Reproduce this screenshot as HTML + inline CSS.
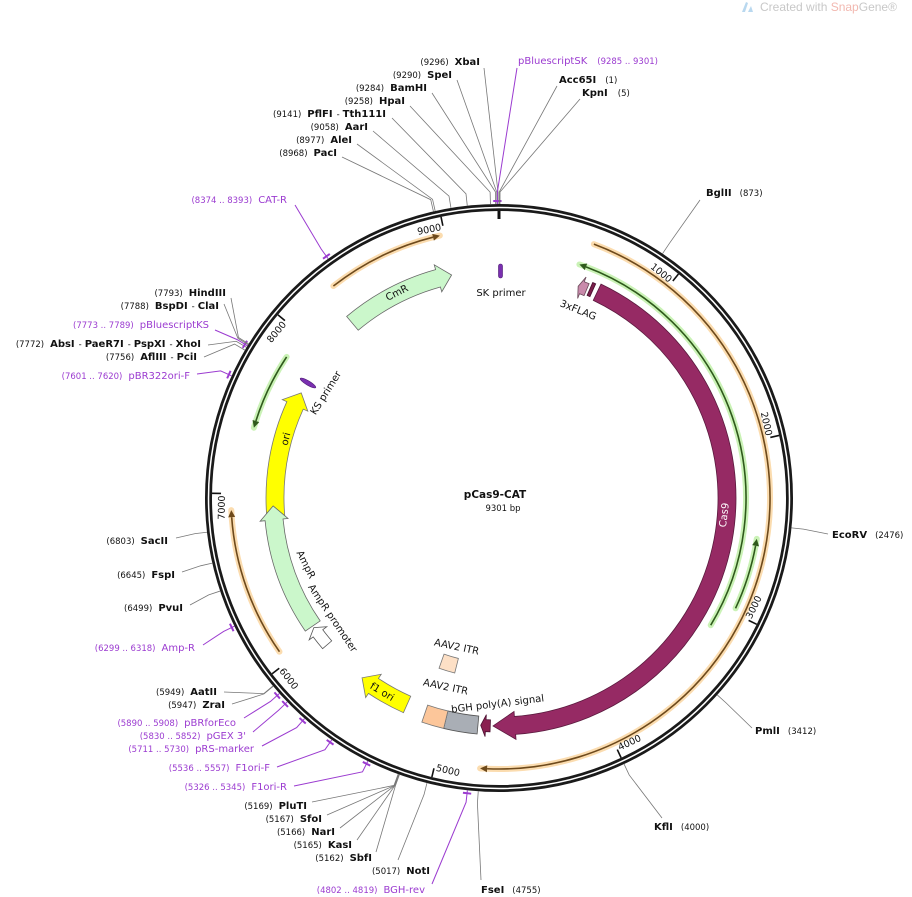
<!DOCTYPE html>
<html><head><meta charset="utf-8"><style>
html,body{margin:0;padding:0;background:#fff;}
svg{display:block;font-family:"DejaVu Sans","Liberation Sans",sans-serif;}
.n{font-size:8.5px;fill:#111;}
.b{font-size:10px;font-weight:bold;fill:#111;}
.p{font-size:8.5px;fill:#9b3bd0;}
.pn{font-size:10px;fill:#9b3bd0;}
.f{font-size:10px;fill:#111;}
.t{font-size:9.5px;fill:#111;}
</style></head><body>
<svg id="s" width="912" height="897" viewBox="0 0 912 897" xmlns="http://www.w3.org/2000/svg">
<g id="g"></g>
<path d="M742 12 L746 2 L748 3 L745 12 Z" fill="#b9d8ef"/><path d="M748 12 L751 6 L753 12 Z" fill="#b9d8ef"/>
<text x="760" y="11" font-size="12" fill="#c8c8c8" font-family="Liberation Sans, sans-serif">Created with <tspan fill="#f2b8b0">Snap</tspan>Gene®</text>

<text x="495" y="498" text-anchor="middle" font-size="10.5" font-weight="bold" fill="#111">pCas9-CAT</text>
<text x="503" y="511" text-anchor="middle" font-size="8.5" fill="#111">9301 bp</text>

<text x="480" y="65" text-anchor="end"><tspan class="n">(9296)</tspan><tspan class="b" dx="6">XbaI</tspan></text>
<text x="452" y="78" text-anchor="end"><tspan class="n">(9290)</tspan><tspan class="b" dx="6">SpeI</tspan></text>
<text x="427" y="91" text-anchor="end"><tspan class="n">(9284)</tspan><tspan class="b" dx="6">BamHI</tspan></text>
<text x="405" y="104" text-anchor="end"><tspan class="n">(9258)</tspan><tspan class="b" dx="6">HpaI</tspan></text>
<text x="386" y="117" text-anchor="end"><tspan class="n">(9141)</tspan><tspan class="b" dx="6">PflFI</tspan><tspan class="n" dx="4">-</tspan><tspan class="b" dx="3">Tth111I</tspan></text>
<text x="368" y="130" text-anchor="end"><tspan class="n">(9058)</tspan><tspan class="b" dx="6">AarI</tspan></text>
<text x="352" y="143" text-anchor="end"><tspan class="n">(8977)</tspan><tspan class="b" dx="6">AleI</tspan></text>
<text x="337" y="156" text-anchor="end"><tspan class="n">(8968)</tspan><tspan class="b" dx="6">PacI</tspan></text>

<text x="518" y="64"><tspan class="pn">pBluescriptSK</tspan><tspan class="p" dx="10">(9285 .. 9301)</tspan></text>
<text x="559" y="83"><tspan class="b">Acc65I</tspan><tspan class="n" dx="9">(1)</tspan></text>
<text x="582" y="96"><tspan class="b">KpnI</tspan><tspan class="n" dx="10">(5)</tspan></text>

<text x="706" y="196"><tspan class="b">BglII</tspan><tspan class="n" dx="8">(873)</tspan></text>
<text x="832" y="538"><tspan class="b">EcoRV</tspan><tspan class="n" dx="8">(2476)</tspan></text>
<text x="755" y="734"><tspan class="b">PmlI</tspan><tspan class="n" dx="8">(3412)</tspan></text>
<text x="654" y="830"><tspan class="b">KflI</tspan><tspan class="n" dx="8">(4000)</tspan></text>
<text x="481" y="893"><tspan class="b">FseI</tspan><tspan class="n" dx="8">(4755)</tspan></text>

<text x="425" y="893" text-anchor="end"><tspan class="p">(4802 .. 4819)</tspan><tspan class="pn" dx="6">BGH-rev</tspan></text>
<text x="430" y="874" text-anchor="end"><tspan class="n">(5017)</tspan><tspan class="b" dx="6">NotI</tspan></text>
<text x="372" y="861" text-anchor="end"><tspan class="n">(5162)</tspan><tspan class="b" dx="6">SbfI</tspan></text>
<text x="352" y="848" text-anchor="end"><tspan class="n">(5165)</tspan><tspan class="b" dx="6">KasI</tspan></text>
<text x="335" y="835" text-anchor="end"><tspan class="n">(5166)</tspan><tspan class="b" dx="6">NarI</tspan></text>
<text x="322" y="822" text-anchor="end"><tspan class="n">(5167)</tspan><tspan class="b" dx="6">SfoI</tspan></text>
<text x="307" y="809" text-anchor="end"><tspan class="n">(5169)</tspan><tspan class="b" dx="6">PluTI</tspan></text>
<text x="287" y="790" text-anchor="end"><tspan class="p">(5326 .. 5345)</tspan><tspan class="pn" dx="6">F1ori-R</tspan></text>
<text x="270" y="771" text-anchor="end"><tspan class="p">(5536 .. 5557)</tspan><tspan class="pn" dx="6">F1ori-F</tspan></text>
<text x="254" y="752" text-anchor="end"><tspan class="p">(5711 .. 5730)</tspan><tspan class="pn" dx="6">pRS-marker</tspan></text>
<text x="246" y="739" text-anchor="end"><tspan class="p">(5830 .. 5852)</tspan><tspan class="pn" dx="6">pGEX 3'</tspan></text>
<text x="236" y="726" text-anchor="end"><tspan class="p">(5890 .. 5908)</tspan><tspan class="pn" dx="6">pBRforEco</tspan></text>
<text x="225" y="708" text-anchor="end"><tspan class="n">(5947)</tspan><tspan class="b" dx="6">ZraI</tspan></text>
<text x="217" y="695" text-anchor="end"><tspan class="n">(5949)</tspan><tspan class="b" dx="6">AatII</tspan></text>
<text x="195" y="651" text-anchor="end"><tspan class="p">(6299 .. 6318)</tspan><tspan class="pn" dx="6">Amp-R</tspan></text>
<text x="183" y="611" text-anchor="end"><tspan class="n">(6499)</tspan><tspan class="b" dx="6">PvuI</tspan></text>
<text x="175" y="578" text-anchor="end"><tspan class="n">(6645)</tspan><tspan class="b" dx="6">FspI</tspan></text>
<text x="168" y="544" text-anchor="end"><tspan class="n">(6803)</tspan><tspan class="b" dx="6">SacII</tspan></text>
<text x="190" y="379" text-anchor="end"><tspan class="p">(7601 .. 7620)</tspan><tspan class="pn" dx="6">pBR322ori-F</tspan></text>
<text x="197" y="360" text-anchor="end"><tspan class="n">(7756)</tspan><tspan class="b" dx="6">AflIII</tspan><tspan class="n" dx="4">-</tspan><tspan class="b" dx="3">PciI</tspan></text>
<text x="201" y="347" text-anchor="end"><tspan class="n">(7772)</tspan><tspan class="b" dx="6">AbsI</tspan><tspan class="n" dx="4">-</tspan><tspan class="b" dx="3">PaeR7I</tspan><tspan class="n" dx="4">-</tspan><tspan class="b" dx="3">PspXI</tspan><tspan class="n" dx="4">-</tspan><tspan class="b" dx="3">XhoI</tspan></text>
<text x="209" y="328" text-anchor="end"><tspan class="p">(7773 .. 7789)</tspan><tspan class="pn" dx="6">pBluescriptKS</tspan></text>
<text x="219" y="309" text-anchor="end"><tspan class="n">(7788)</tspan><tspan class="b" dx="6">BspDI</tspan><tspan class="n" dx="4">-</tspan><tspan class="b" dx="3">ClaI</tspan></text>
<text x="226" y="296" text-anchor="end"><tspan class="n">(7793)</tspan><tspan class="b" dx="6">HindIII</tspan></text>
<text x="287" y="203" text-anchor="end"><tspan class="p">(8374 .. 8393)</tspan><tspan class="pn" dx="6">CAT-R</tspan></text>

<text x="501" y="296" text-anchor="middle" class="f">SK primer</text>
<text x="577" y="313" text-anchor="middle" class="f" transform="rotate(22 577 313)">3xFLAG</text>
<text x="397" y="296" text-anchor="middle" class="f" transform="rotate(-27 397 293)">CmR</text>
<text x="326" y="396" text-anchor="middle" class="f" transform="rotate(-58 326 393)">KS primer</text>
<text x="286" y="442" text-anchor="middle" class="f" transform="rotate(-76 286 439)">ori</text>
<text x="303" y="566" text-anchor="middle" class="f" transform="rotate(63 303 566)">AmpR</text>
<text x="330" y="620" text-anchor="middle" class="f" transform="rotate(56 330 620)">AmpR promoter</text>
<text x="456" y="650" text-anchor="middle" class="f" transform="rotate(12 456 650)">AAV2 ITR</text>
<text x="445" y="690" text-anchor="middle" class="f" transform="rotate(12 445 690)">AAV2 ITR</text>
<text x="498" y="707" text-anchor="middle" class="f" transform="rotate(-7 498 707)">bGH poly(A) signal</text>
<text x="382" y="695" text-anchor="middle" class="f" transform="rotate(31 382 692)">f1 ori</text>
<text x="727" y="521" text-anchor="middle" font-size="10" fill="#fff" transform="rotate(-83 724 518)">Cas9</text>

<g id="ticks" class="t"></g>
</svg>
<script>
const cx=499,cy=498,NS="http://www.w3.org/2000/svg";
const g=document.getElementById('g');
function P(r,a){a*=Math.PI/180;return [cx+r*Math.sin(a),cy-r*Math.cos(a)];}
function f(p){return p[0].toFixed(2)+' '+p[1].toFixed(2);}
function add(tag,at,parent){const e=document.createElementNS(NS,tag);for(const k in at)e.setAttribute(k,at[k]);(parent||g).appendChild(e);return e;}
function A(p){return p/9301*360;}
function band(a1,a2,r,w,fill,stroke,dir,hpx){
  const ri=r-w/2,ro=r+w/2;hpx=hpx||10;const hd=hpx/r*180/Math.PI;let d;
  if(dir==='cw'){const b=a2-hd,L=(b-a1)>180?1:0;
    d='M'+f(P(ro,a1))+'A'+ro+' '+ro+' 0 '+L+' 1 '+f(P(ro,b))+'L'+f(P(ro+5,b))+'L'+f(P(r,a2))+'L'+f(P(ri-5,b))+'L'+f(P(ri,b))+'A'+ri+' '+ri+' 0 '+L+' 0 '+f(P(ri,a1))+'Z';}
  else if(dir==='ccw'){const b=a1+hd,L=(a2-b)>180?1:0;
    d='M'+f(P(r,a1))+'L'+f(P(ro+5,b))+'L'+f(P(ro,b))+'A'+ro+' '+ro+' 0 '+L+' 1 '+f(P(ro,a2))+'L'+f(P(ri,a2))+'A'+ri+' '+ri+' 0 '+L+' 0 '+f(P(ri,b))+'L'+f(P(ri-5,b))+'Z';}
  else{const L=(a2-a1)>180?1:0;
    d='M'+f(P(ro,a1))+'A'+ro+' '+ro+' 0 '+L+' 1 '+f(P(ro,a2))+'L'+f(P(ri,a2))+'A'+ri+' '+ri+' 0 '+L+' 0 '+f(P(ri,a1))+'Z';}
  add('path',{d:d,fill:fill,stroke:stroke,'stroke-width':0.8});
}
function arc(r,a1,a2){const L=(a2-a1)>180?1:0;return 'M'+f(P(r,a1))+'A'+r+' '+r+' 0 '+L+' 1 '+f(P(r,a2));}
function thin(a1,a2,r,glow,col,dir){
  add('path',{d:arc(r,a1,a2),fill:'none',stroke:glow,'stroke-width':6,opacity:0.55,'stroke-linecap':'round'});
  const hd=7/r*180/Math.PI;
  const s=dir==='cw'?a1:a1+hd, e=dir==='cw'?a2-hd:a2;
  add('path',{d:arc(r,s,e),fill:'none',stroke:col,'stroke-width':1.6});
  let tip,b; if(dir==='cw'){tip=a2;b=a2-hd;}else{tip=a1;b=a1+hd;}
  add('path',{d:'M'+f(P(r,tip))+'L'+f(P(r+3.5,b))+'L'+f(P(r-3.5,b))+'Z',fill:col});
}
add('circle',{cx:cx,cy:cy,r:290.5,fill:'none',stroke:'#1a1a1a','stroke-width':7});
add('circle',{cx:cx,cy:cy,r:290.5,fill:'none',stroke:'#fff','stroke-width':1.5});
add('path',{d:'M'+f(P(287,0))+'L'+f(P(279,0)),stroke:'#111','stroke-width':3});
const tg=document.getElementById('ticks');
for(let k=1;k<=9;k++){
  const a=A(k*1000);
  add('path',{d:'M'+f(P(287,a))+'L'+f(P(278,a)),stroke:'#111','stroke-width':1.6});
  let rot,anchor,r,dx;
  const top=(a<90||a>270);
  if(a<=90)rot=a;else if(a<270)rot=a-180;else rot=a-360;
  if(top){anchor='end';r=274;dx=-2;}else{anchor='start';r=280;dx=2;}
  const p=P(r,a);
  const t=add('text',{x:p[0],y:p[1],'text-anchor':anchor,dx:dx,transform:'rotate('+rot+' '+p[0]+' '+p[1]+')'},tg);
  t.textContent=(k*1000);
}
const OG='#f7bf6e',OL='#6e4a1c',GG='#9ee87a',GL='#2f5a1c';
thin(20.5,184,271,OG,OL,'cw');
thin(322,347.3,269,OG,OL,'cw');
thin(235,267.4,268,OG,OL,'cw');
thin(19,121,247,GG,GL,'ccw');
thin(99,115,261,GG,GL,'ccw');
thin(286,303.6,255,GG,GL,'ccw');
band(25.5,181.5,228,18,'#962a64','#5a1a3e','cw',22);
band(20.5,22.8,226,13,'#c98aab','#6a4a5a','ccw',4);
band(23.5,24.3,228,14,'#7a1f4a','#4a1030');
band(182.2,184.6,228,12,'#8a2050','#4a1030','cw',5);
band(185.3,193.5,228,18,'#a9aeb5','#555');
band(193.5,199,228,18,'#fcc69a','#777');
band(194.2,199.4,173,15,'#fde0c6','#777');
band(320,348,228,18,'#cbf7cb','#666','cw',14);
band(265,298,224,18,'#ffff00','#777','cw',14);
band(235.5,268,226,18,'#cbf7cb','#666','cw',14);
band(229.5,235,226,12,'#ffffff','#555','cw',7);
band(204,217.3,226,18,'#ffff00','#777','cw',14);
add('rect',{x:498.5,y:264,width:4,height:14,rx:2,fill:'#7a2fb0',stroke:'#4a1a70','stroke-width':0.6});
add('ellipse',{cx:308,cy:383,rx:9,ry:2.2,fill:'#7a2fb0',stroke:'#4a1a70','stroke-width':0.6,transform:'rotate(31 308 383)'});
function site(pos,x,y,col){
  const a=A(pos);const c=col||'#777';
  add('path',{d:'M'+x+' '+y+'L'+f(P(306,a))+'L'+f(P(294,a)),fill:'none',stroke:c,'stroke-width':col?1:0.8});
  if(col){add('path',{d:'M'+f(P(297,a-0.8))+'L'+f(P(297,a+0.8)),stroke:col,'stroke-width':2});}
}
const PU='#9b3bd0';
site(9296,484,68);site(9290,457,80);site(9284,432,93);site(9258,410,106);
site(9141,392,118);site(9058,373,131);site(8977,357,144);site(8968,342,157);
site(9293,517,68,PU);site(1,557,86);site(5,580,99);
site(873,700,200);site(2476,828,534);site(3412,752,728);site(4000,662,818);
site(4755,481,880);site(4810,432,884,PU);site(5017,398,860);site(5162,376,852);
site(5165,357,840);site(5166,340,828);site(5167,327,815);site(5169,312,802);
site(5335,294,786,PU);site(5546,277,767,PU);site(5720,262,746,PU);site(5841,253,732,PU);
site(5899,244,718,PU);site(5947,232,704);site(5949,224,692);site(6308,203,645,PU);
site(6499,190,605);site(6645,182,572);site(6803,176,538);site(7610,197,374,PU);
site(7756,204,357);site(7772,208,345);site(7781,215,330,PU);site(7788,224,304);
site(7793,231,298);site(8383,295,205,PU);
</script>
</body></html>
